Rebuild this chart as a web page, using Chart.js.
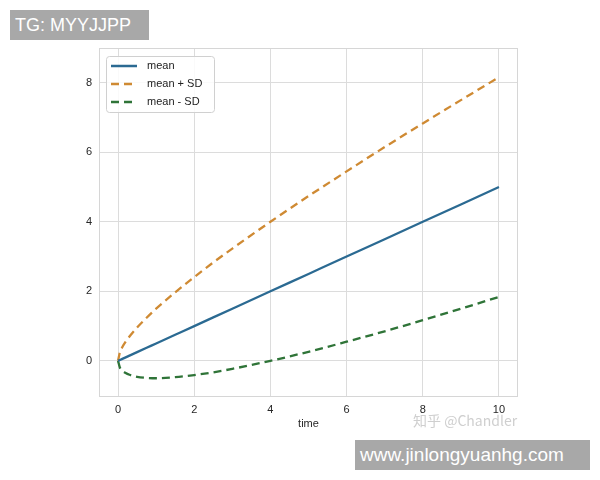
<!DOCTYPE html>
<html lang="en">
<head>
    <meta charset="UTF-8">
    <title>mean +/- SD</title>
    <script src="https://cdn.jsdelivr.net/npm/chart.js"></script>
    <style>
        body { margin: 0; background: #fff; }
        #wrap { position: relative; width: 600px; height: 480px; }
        .tag { position: absolute; background: #a8a8a8; color: #fff; font-family: "Liberation Sans", Arial, sans-serif; }
        #tg { left: 10px; top: 10px; width: 139px; height: 30px; font-size: 18px; line-height: 30px; padding-left: 5px; box-sizing: border-box; }
        #site { left: 355px; top: 440px; width: 235px; height: 30px; font-size: 19px; line-height: 30px; padding-left: 5px; box-sizing: border-box; }
        #zhihu { position: absolute; left: 413px; top: 410px; font-size: 14px; color: rgba(195,195,195,0.8); font-family: "Noto Sans CJK SC", "Liberation Sans", sans-serif; }
    </style>
</head>
<body>
<div id="wrap">
    <canvas id="sdChart" width="600" height="480"></canvas>
    <div id="tg" class="tag">TG: MYYJJPP</div>
    <div id="zhihu">知乎 @Chandler</div>
    <div id="site" class="tag">www.jinlongyuanhg.com</div>
</div>
<script>
    // values
    var time      = [0, 0.05, 0.1, 0.2, 0.3, 0.5, 0.75, 1, 1.5, 2, 2.5, 3, 4, 5, 6, 7, 8, 9, 10];
    var mean      = [0, 0.025, 0.05, 0.1, 0.15, 0.25, 0.375, 0.5, 0.75, 1, 1.25, 1.5, 2, 2.5, 3, 3.5, 4, 4.5, 5];
    var meanPlus  = [0, 0.25, 0.37, 0.55, 0.70, 0.96, 1.24, 1.5, 1.97, 2.41, 2.83, 3.23, 4.0, 4.74, 5.45, 6.15, 6.83, 7.5, 8.16];
    var meanMinus = [0, -0.20, -0.27, -0.35, -0.40, -0.46, -0.49, -0.5, -0.47, -0.41, -0.33, -0.23, 0.0, 0.26, 0.55, 0.85, 1.17, 1.5, 1.84];
    var xTicks = [0, 2, 4, 6, 8, 10];
    var yTicks = [0, 2, 4, 6, 8];

    function pts(ys) {
        return time.map(function(t, i) { return { x: t, y: ys[i] }; });
    }

    var font = { family: "'Liberation Sans', Arial, sans-serif", size: 11 };

    // legend box inside the plot + outer frame
    var boxLegend = {
        id: "boxLegend",
        afterDatasetsDraw: function(chart) {
            var ctx = chart.ctx, a = chart.chartArea;
            ctx.save();
            ctx.strokeStyle = "#d6d6d6";
            ctx.lineWidth = 1;
            ctx.strokeRect(a.left + 0.5, a.top + 0.5, a.right - a.left - 1, a.bottom - a.top - 1);

            var x = a.left + 7, y = a.top + 8;
            ctx.fillStyle = "rgba(255,255,255,0.85)";
            ctx.strokeStyle = "#d0d0d0";
            ctx.beginPath();
            ctx.roundRect(x + 0.5, y + 0.5, 108, 56, 3);
            ctx.fill();
            ctx.stroke();

            ctx.font = "11px 'Liberation Sans', Arial, sans-serif";
            ctx.textBaseline = "middle";
            chart.data.datasets.forEach(function(ds, i) {
                var ly = y + 10 + i * 18;
                ctx.strokeStyle = ds.borderColor;
                ctx.lineWidth = 2.5;
                ctx.setLineDash(ds.borderDash || []);
                ctx.beginPath();
                ctx.moveTo(x + 5, ly);
                ctx.lineTo(x + 31, ly);
                ctx.stroke();
                ctx.setLineDash([]);
                ctx.fillStyle = "#222";
                ctx.fillText(ds.label, x + 41, ly);
            });
            ctx.restore();
        }
    };

    new Chart(document.getElementById("sdChart"), {
        type: "line",
        data: {
            datasets: [
                { label: "mean", data: pts(mean), borderColor: "#2b6a92", borderWidth: 2.3, tension: 0 },
                { label: "mean + SD", data: pts(meanPlus), borderColor: "#cf8a33", borderWidth: 2.3, borderDash: [8, 5] },
                { label: "mean - SD", data: pts(meanMinus), borderColor: "#2f7438", borderWidth: 2.3, borderDash: [8, 5] }
            ]
        },
        options: {
            responsive: false,
            animation: false,
            layout: { padding: { top: 48, right: 82, bottom: 49, left: 0 } },
            elements: {
                point: { radius: 0 },
                line: { tension: 0.4, cubicInterpolationMode: "monotone", fill: false }
            },
            plugins: { legend: { display: false }, tooltip: { enabled: false } },
            scales: {
                x: {
                    type: "linear",
                    min: -0.5, max: 10.5,
                    afterBuildTicks: function(s) { s.ticks = xTicks.map(function(v) { return { value: v }; }); },
                    afterFit: function(s) { s.height = 34; },
                    grid: { color: "#dcdcdc", drawTicks: false },
                    border: { display: false },
                    ticks: { font: font, color: "#262626", padding: 6 },
                    title: { display: true, text: "time", font: font, color: "#262626", padding: 0 }
                },
                y: {
                    min: -1.04, max: 9.0,
                    afterBuildTicks: function(s) { s.ticks = yTicks.map(function(v) { return { value: v }; }); },
                    afterFit: function(s) { s.width = 99; },
                    grid: { color: "#dcdcdc", drawTicks: false },
                    border: { display: false },
                    ticks: { font: font, color: "#262626", padding: 7 }
                }
            }
        },
        plugins: [boxLegend]
    });
</script>
</body>
</html>
